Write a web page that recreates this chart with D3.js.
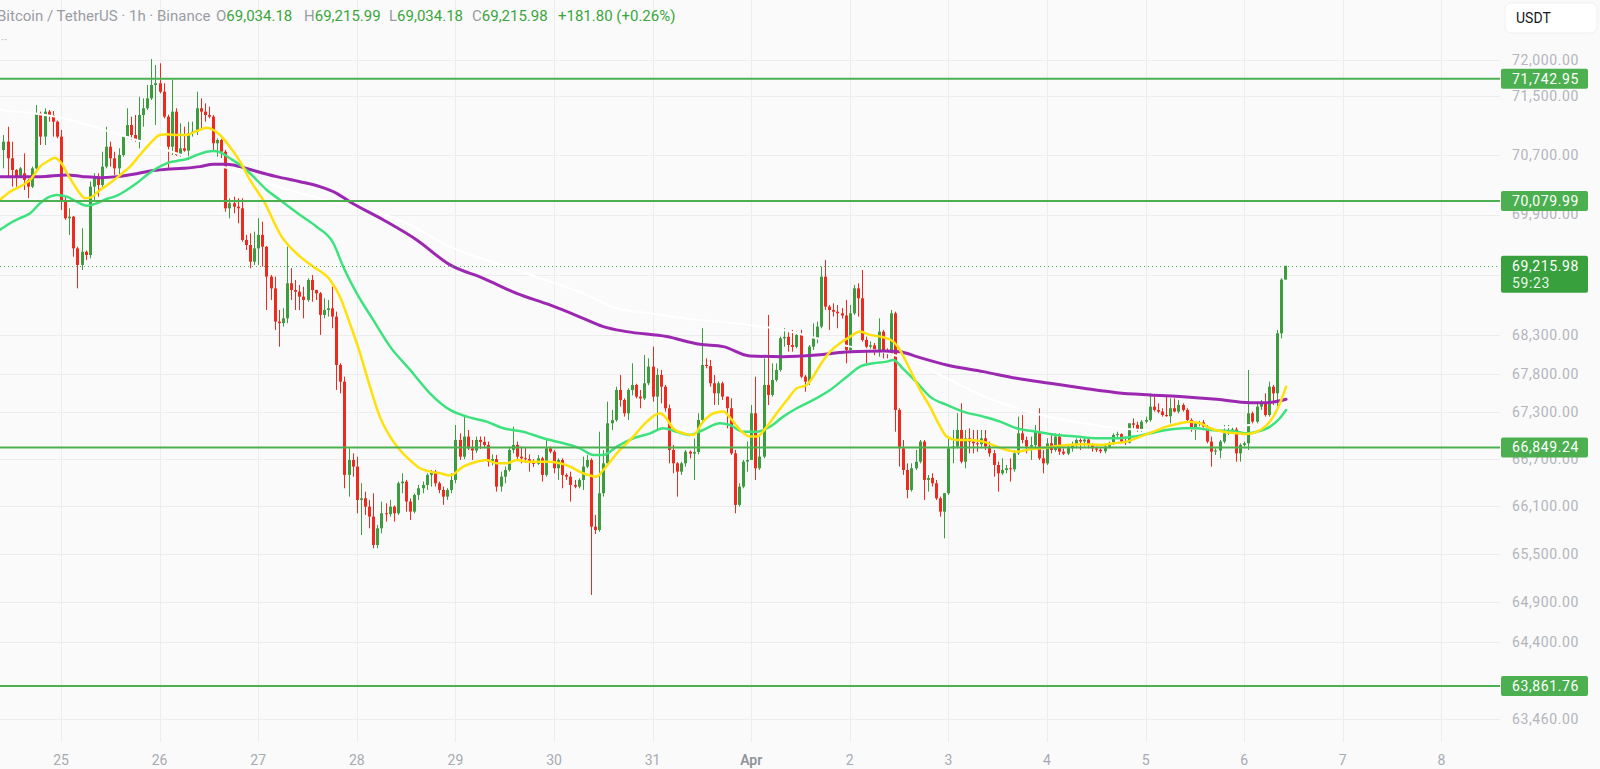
<!DOCTYPE html>
<html>
<head>
<meta charset="utf-8">
<script src="https://cdn.jsdelivr.net/npm/d3@7"></script>
<style>
html, body { margin: 0; padding: 0; background: #fafafa; overflow: hidden; }
svg { display: block; font-family: Roboto, "Noto Sans", sans-serif; }
</style>
</head>
<body>
<svg id="chart" width="1600" height="769"></svg>
<script>
// 1h bars, first visible bar opens Mar 24 10:00 UTC
const firstBar = Date.UTC(2024, 2, 24, 10)

// [open, high, low, close]
const ohlc = [
  [70769,70973,70521,70882],[70882,71086,70409,70657],[70657,70882,70274,70499],[70499,70510,70274,70409],
  [70409,70540,70390,70521],[70454,70724,70229,70364],[70364,70380,70120,70274],[70274,70544,70255,70521],
  [70521,71382,70499,71268],[71268,71291,70837,70951],[70951,71337,70837,71291],[71291,71314,71154,71245],
  [71245,71300,70951,71154],[71154,71170,70928,70951],[70951,71041,69960,70072],[70072,70139,69830,69849],
  [69849,69983,69627,69871],[69871,69880,69338,69448],[69448,69470,68918,69228],[69228,69716,69161,69403],
  [69403,69420,69294,69360],[69360,70341,69316,70274],[70274,70454,70072,70387],[70387,70454,70139,70297],
  [70297,70746,70252,70544],[70544,71086,70521,70814],[70814,70882,70544,70657],[70657,70746,70432,70521],
  [70521,70792,70432,70701],[70701,70973,70678,70951],[70951,71337,70928,71109],[71109,71223,70905,70973],
  [70973,71245,70882,70905],[70905,71495,70792,71245],[71245,71473,71086,71337],[71337,71656,71314,71473],
  [71473,72014,71450,71656],[71656,71931,71109,71680],[71680,71955,71541,71564],[71564,71680,71200,71223],
  [71223,71250,70521,70814],[70814,71725,70701,71291],[71291,71337,70690,70701],[70701,71132,70678,70792],
  [70792,71086,70746,70760],[70760,71154,70634,70997],[70997,71154,70951,71018],[71018,71564,70973,71337],
  [71337,71473,71064,71291],[71291,71405,71154,71245],[71245,71359,71200,71223],[71223,71245,70769,70860],
  [70860,70928,70678,70905],[70905,70920,70660,70746],[70746,70769,69937,69983],[69983,70118,69849,70050],
  [70050,70139,69916,70005],[70005,70118,69782,69983],[69983,70118,69537,69560],[69560,69627,69426,69493],
  [69493,69649,69184,69271],[69271,69671,69228,69448],[69448,69849,69228,69627],[69627,69804,69206,69470],
  [69470,69480,68633,69073],[69073,69095,68765,68918],[68918,69073,68371,68480],[68480,68633,68152,68460],
  [68460,68655,68415,68524],[68524,69470,68458,68985],[68985,69184,68765,68896],[68896,69029,68633,68874],
  [68874,68963,68633,68808],[68808,68940,68524,68765],[68765,69051,68742,69029],[69029,69095,68742,68896],
  [68896,68900,68765,68852],[68852,68870,68306,68568],[68568,68787,68524,68633],[68633,68765,68546,68655],
  [68655,68940,68393,68546],[68546,68612,67589,67914],[67914,67935,67546,67697],[67697,67762,66328,66498],
  [66498,66838,66222,66689],[66689,66774,66476,66604],[66604,66731,66011,66180],[66180,66392,65737,66201],
  [66201,66286,65990,66095],[66095,66180,65821,65969],[65969,66265,65569,65611],[65611,65864,65569,65821],
  [65821,66159,65758,66011],[66011,66138,65906,66000],[66000,66180,65969,66095],[66095,66110,65906,66011],
  [66011,66413,65990,66392],[66392,66519,66265,66413],[66413,66434,66032,66159],[66159,66200,65927,66032],
  [66032,66260,66010,66244],[66244,66370,66180,66328],[66328,66413,66265,66370],[66370,66519,66307,66498],
  [66498,66561,66349,66540],[66540,66561,66349,66392],[66392,66413,66265,66307],[66307,66349,66117,66222],
  [66222,66330,66180,66307],[66307,66519,66265,66434],[66434,67137,66392,66945],[66945,67030,66689,66731],
  [66731,67266,66700,66988],[66988,67073,66817,66838],[66838,66945,66689,66810],[66810,66988,66780,66945],
  [66945,66990,66830,66920],[66920,66988,66838,66881],[66881,66924,66604,66667],[66667,66760,66620,66700],
  [66700,66753,66286,66349],[66349,66540,66286,66476],[66476,66604,66392,66561],[66561,66860,66540,66817],
  [66817,67116,66774,66881],[66881,66924,66689,66731],[66731,66860,66646,66710],[66710,66850,66650,66700],
  [66700,66760,66540,66667],[66667,66700,66600,66640],[66640,66753,66625,66710],[66710,66731,66413,66498],
  [66498,66966,66476,66838],[66838,66860,66774,66795],[66795,66817,66519,66583],[66583,66710,66434,66689],
  [66689,66710,66328,66498],[66498,66519,66434,66476],[66476,66540,66159,66370],[66370,66434,66328,66349],
  [66349,66455,66328,66434],[66434,66731,66307,66604],[66604,66753,66583,66689],[66689,66710,64986,65842],
  [65842,65990,65750,65800],[65800,67051,65779,66265],[66265,66817,66222,66646],[66646,67438,66625,67159],
  [67159,67331,67073,67200],[67200,67632,67180,67589],[67589,67784,67374,67460],[67460,67481,67245,67288],
  [67288,67610,67202,67589],[67589,67935,67520,67654],[67654,67670,67481,67503],[67503,67589,67353,67480],
  [67480,68044,67460,67676],[67676,68000,67650,67892],[67892,68152,67438,67503],[67503,67870,67073,67784],
  [67784,67849,67417,67632],[67632,67654,67310,67353],[67353,67400,66646,66817],[66817,66881,66519,66646],
  [66646,66660,66222,66540],[66540,66667,66498,66646],[66646,66817,66604,66795],[66795,66810,66710,66770],
  [66770,66966,66434,66790],[66790,67288,66760,67202],[67202,68393,67159,67914],[67914,68000,67870,67900],
  [67900,67979,67632,67676],[67676,67784,67395,67546],[67546,67700,67395,67676],[67676,67697,67460,67503],
  [67503,67503,67094,67353],[67353,67481,66753,66774],[66774,66817,66011,66117],[66117,66392,66095,66349],
  [66349,66689,66328,66667],[66667,66924,66540,66689],[66689,67395,66689,67288],[67288,67762,66434,66583],
  [66583,66988,66561,66731],[66731,68000,66710,67654],[67654,68568,67395,67525],[67525,67935,67503,67719],
  [67719,67935,67697,67849],[67849,68284,67827,68262],[68262,68393,68152,68280],[68280,68349,68087,68174],
  [68174,68371,68087,68150],[68150,68349,68131,68306],[68306,68371,67741,67762],[67762,67784,67567,67697],
  [67697,68174,67654,68152],[68152,68458,68109,68262],[68262,68480,68196,68415],[68415,69206,68393,69073],
  [69073,69294,68633,68677],[68677,68699,68371,68633],[68633,68721,68546,68610],[68610,68699,68393,68589],
  [68589,68660,68520,68560],[68560,68765,67935,68109],[68109,68699,68066,68589],[68589,68963,68568,68918],
  [68918,68985,68546,68787],[68787,69161,68218,68240],[68240,68284,67935,68152],[68152,68220,68100,68170],
  [68170,68200,68040,68087],[68087,68524,68022,68349],[68349,68371,68000,68087],[68087,68130,68000,68060],
  [68060,68633,68040,68589],[68589,68611,67051,67331],[67331,67353,66604,66838],[66838,66945,66498,66561],
  [66561,66646,66201,66307],[66307,66646,66286,66583],[66583,66817,66561,66667],[66667,66945,66646,66924],
  [66924,66945,66180,66434],[66434,66498,66286,66460],[66460,66519,66349,66392],[66392,66434,66180,66201],
  [66201,66222,65969,66032],[66032,66265,65695,66265],[66265,66988,66244,66838],[66838,67073,66646,66860],
  [66860,67288,66838,67073],[67073,67417,66646,66667],[66667,67073,66583,66966],[66966,67094,66774,66924],
  [66924,67073,66774,66902],[66902,67073,66795,66890],[66890,67073,66838,66966],[66966,67073,66817,66860],
  [66860,66924,66731,66774],[66774,66817,66476,66625],[66625,66667,66286,66519],[66519,66710,66498,66561],
  [66561,66625,66519,66583],[66583,66710,66413,66570],[66570,66817,66540,66774],[66774,67245,66753,67030],
  [67030,67266,66902,66945],[66945,66988,66774,66860],[66860,66988,66689,66880],[66880,67137,66838,67051],
  [67051,67353,66689,66710],[66710,66817,66519,66646],[66646,66966,66625,66902],[66902,67030,66774,66817],
  [66817,67030,66795,66988],[66988,67030,66753,66795],[66795,66838,66753,66770],[66770,66870,66750,66840],
  [66840,66924,66795,66881],[66881,66966,66838,66945],[66945,66965,66817,66925],[66925,66970,66860,66950],
  [66950,66970,66838,66881],[66881,66902,66795,66838],[66838,66860,66790,66820],[66820,66840,66774,66800],
  [66800,66880,66774,66860],[66860,66924,66838,66902],[66902,67030,66881,67009],[67009,67051,66966,67020],
  [67020,67030,66902,66924],[66924,66988,66881,66910],[66910,67159,66902,67159],[67159,67223,67094,67140],
  [67140,67180,67051,67073],[67073,67202,67051,67180],[67180,67245,67159,67202],[67202,67546,67180,67374],
  [67374,67503,67310,67331],[67331,67417,67288,67310],[67310,67353,67245,67266],[67266,67525,67245,67250],
  [67250,67481,67159,67353],[67353,67481,67300,67310],[67310,67460,67288,67395],[67395,67417,67310,67331],
  [67331,67353,67180,67202],[67202,67223,67051,67073],[67073,67180,66945,67159],[67159,67190,67120,67170],
  [67170,67202,67094,67116],[67116,67137,66902,66924],[66924,66988,66604,66795],[66795,66838,66753,66810],
  [66810,66945,66710,66924],[66924,67137,66902,67030],[67030,67137,67009,67073],[67073,67110,67030,67080],
  [67080,67116,66667,66774],[66774,66902,66667,66881],[66881,66924,66860,66902],[66902,67849,66817,67288],
  [67288,67310,67159,67180],[67180,67417,67159,67374],[67374,67460,67331,67417],[67417,67546,67245,67266],
  [67266,67697,67245,67632],[67632,67654,67395,67546],[67546,68371,67331,68327],[68327,69051,68262,69034.18],
  [69034.18,69215.99,69034.18,69215.98]
]

// moving averages: [bar index, price]
const maFast = [[-0.9,70095],[1.6,70206],[4,70274],[6.5,70364],[8.9,70544],[11.3,70634],[12.5,70665],[13.8,70611],
  [16.2,70387],[18.6,70184],[19.8,70118],[21.1,70126],[23.5,70229],[25.9,70319],[28.4,70432],[30.8,70544],
  [33.2,70701],[35.7,70860],[38.1,70973],[39.7,70982],[42.2,70973],[44.6,70973],[47,71027],[49.5,71072],
  [51.1,71041],[52.7,70973],[55.1,70814],[57.6,70611],[60,70364],[63.2,70095],[67.7,69604],[72.2,69338],
  [75.4,69205],[79.5,69029],[81.9,68808],[84.3,68458],[86.8,68066],[89.2,67632],[91.6,67245],[94.1,66988],
  [96.5,66817],[98.9,66689],[101.4,66583],[103.8,66540],[106.3,66519],[108.7,66490],[111.9,66604],[115.2,66667],
  [117.6,66689],[120.1,66646],[122.5,66646],[124.9,66689],[127.4,66667],[130.6,66667],[133,66667],[135.5,66646],
  [137.9,66604],[141.1,66519],[144.4,66476],[146,66561],[149.3,66774],[153.3,66988],[156.6,67180],[159.8,67288],
  [161,67245],[163,67095],[165.5,67030],[167.9,67009],[170.3,67180],[172.8,67288],[175.2,67310],[177.3,67202],
  [179.3,67073],[181.7,66988],[183.4,66988],[185.8,67116],[188.2,67288],[190.7,67460],[193.1,67611],[195.5,67654],
  [197.1,67762],[198.8,67914],[201.2,68087],[203.6,68197],[206.1,68284],[208.5,68349],[210.9,68306],[214.2,68275],
  [216.6,68218],[218.2,68109],[220.7,67849],[223.1,67589],[225.5,67374],[228,67116],[229.6,66988],[232,66945],
  [235.3,66945],[238.5,66924],[241.8,66860],[244.2,66817],[246.6,66795],[249.1,66817],[252.3,66838],[255.6,66860],
  [258.8,66881],[262.9,66890],[266.9,66881],[270.2,66902],[273.4,66924],[276.7,66988],[279.9,67051],[283.1,67116],
  [286.4,67159],[288.8,67180],[291.3,67159],[293.7,67095],[296.9,67051],[300.2,67030],[302.6,67020],[305.1,67051],
  [307.5,67137],[309.1,67245],[310.7,67417],[312.2,67632]]

const maMid = [[-0.9,69693],[1.6,69783],[4,69850],[6.5,69916],[8.9,70050],[11.3,70139],[12.9,70162],[15.4,70139],
  [17.8,70072],[20.3,70018],[22.7,70050],[25.1,70108],[27.6,70153],[30,70229],[32.4,70319],[34.9,70432],
  [37.3,70522],[39.7,70589],[42.2,70620],[44.6,70647],[47,70701],[49.5,70746],[51.1,70755],[52.7,70738],
  [55.1,70657],[57.6,70566],[60,70454],[64.1,70229],[67.3,70095],[72.2,69893],[76.2,69737],[80.3,69516],
  [82.7,69205],[86,68852],[90,68502],[94.1,68153],[99,67849],[103.8,67546],[108.7,67331],[112.8,67245],
  [117.6,67180],[121.7,67095],[126.5,67051],[131.4,66966],[136.3,66902],[140.3,66838],[143.6,66753],[146,66753],
  [149.3,66860],[153.3,66966],[157.4,67030],[160.6,67095],[163.9,67051],[167.1,67009],[170.3,67073],[174.4,67159],
  [176.8,67137],[180.1,67051],[183.4,67051],[186.6,67116],[189.8,67245],[193.1,67353],[197.1,67460],[201.2,67589],
  [205.3,67762],[208.5,67892],[211.7,67935],[215,67957],[216.6,67979],[219,67862],[222.3,67687],[225.5,67503],
  [229.6,67396],[233.6,67310],[238.5,67245],[242.6,67180],[246.6,67095],[251.5,67051],[256.4,67009],[261.2,66988],
  [266.1,66966],[271,66966],[275,66988],[279.1,67030],[283.1,67073],[287.2,67095],[290.4,67095],[293.7,67073],
  [296.9,67062],[300.2,67051],[302.6,67030],[305.1,67051],[308.3,67116],[310.3,67202],[312.2,67331]]

const maSlow = [[-0.9,70409],[8.9,70409],[15.4,70432],[19.4,70409],[23.5,70395],[27.6,70409],[31.6,70441],
  [35.7,70486],[39.7,70508],[43.8,70522],[47.8,70544],[51.1,70576],[54.3,70576],[57.6,70544],[60,70506],
  [66.5,70409],[72.2,70341],[77,70274],[81.1,70184],[84.3,70072],[92.5,69827],[100.6,69560],[108.7,69228],
  [116.8,69051],[124.9,68852],[133,68699],[141.1,68524],[146,68415],[151.7,68349],[161.4,68284],[169.5,68183],
  [175.2,68153],[181.7,68031],[189.8,68022],[198,68044],[206.1,68087],[214.2,68096],[218.2,68087],[222.3,68022],
  [229.6,67914],[238.5,67827],[246.6,67741],[254.7,67676],[262.9,67611],[271,67554],[279.1,67525],[287.2,67503],
  [295.3,67469],[303.4,67425],[307.5,67425],[312.2,67469]]

const maLong = [[-0.9,71314],[7.3,71268],[15.4,71191],[25.9,71018],[34.9,70860],[44.6,70678],[55.9,70499],
  [64.1,70319],[72.2,70185],[80.3,70072],[88.4,69960],[96.5,69827],[108.7,69470],[124.9,69161],[133,69007],
  [141.1,68852],[149.3,68655],[157.4,68590],[165.5,68524],[181.7,68437],[189.8,68371],[198,68262],[206.1,68153],
  [214.2,68083],[222.3,67940],[230.4,67719],[238.5,67512],[246.6,67357],[254.7,67240],[262.9,67159],[271,67099],
  [279.1,67073],[287.2,67086],[295.3,67099],[303.4,67137]]

const levels = [71742.95, 70079.99, 66849.24, 63861.76]
const lastPrice = 69215.98
const countdown = "59:23"
const priceTicks = [72000, 71500, 70700, 69900, 69100, 68300, 67800, 67300, 66700, 66100, 65500, 64900, 64400, 63460]
const dayTicks = d3.range(0, 15).map(k => new Date(Date.UTC(2024, 2, 25 + k)))

const up = "#3d9c40", down = "#ee2a1e"
const paneRight = 1500, paneBottom = 742

const svg = d3.select("#chart")
const fmt = d3.format(",.2f")

const x = d3.scaleUtc()
    .domain([new Date(Date.UTC(2024, 2, 25)), new Date(Date.UTC(2024, 3, 8))])
    .range([61, 1441.4])
const y = d3.scaleLog()
    .domain([63460, 72000])
    .range([719, 60])
const barX = i => x(new Date(firstBar + i * 36e5))

svg.append("rect").attr("width", 1600).attr("height", 769).attr("fill", "#fafafa")

svg.append("defs").append("clipPath").attr("id", "pane")
    .append("rect").attr("width", paneRight).attr("height", paneBottom)

// grid
svg.append("g")
    .attr("stroke", "#ededed")
    .selectAll("line")
    .data(dayTicks)
    .join("line")
    .attr("x1", d => Math.round(x(d)) + 0.5)
    .attr("x2", d => Math.round(x(d)) + 0.5)
    .attr("y1", 0)
    .attr("y2", paneBottom)

svg.append("g")
    .attr("stroke", "#ededed")
    .selectAll("line")
    .data(priceTicks)
    .join("line")
    .attr("x1", 0)
    .attr("x2", paneRight)
    .attr("y1", d => Math.round(y(d)) + 0.5)
    .attr("y2", d => Math.round(y(d)) + 0.5)

const pane = svg.append("g").attr("clip-path", "url(#pane)")

// candles
const bars = pane.append("g")
    .selectAll("g")
    .data(ohlc)
    .join("g")
    .attr("fill", d => d[3] >= d[0] ? up : down)

bars.append("rect")
    .attr("x", (d, i) => Math.round(barX(i)))
    .attr("width", 1)
    .attr("y", d => y(d[1]))
    .attr("height", d => Math.max(1, y(d[2]) - y(d[1])))

bars.append("rect")
    .attr("x", (d, i) => Math.round(barX(i)) - 1)
    .attr("width", 3)
    .attr("y", d => y(Math.max(d[0], d[3])))
    .attr("height", d => Math.max(1, Math.abs(y(d[0]) - y(d[3]))))

// moving averages
const line = d3.line()
    .x(d => barX(d[0]))
    .y(d => y(d[1]))
    .curve(d3.curveMonotoneX)

const mas = [
  [maLong, "#ffffff", 2],
  [maSlow, "#9c27b0", 3],
  [maMid, "#3de27e", 2.5],
  [maFast, "#ffe00a", 2.5]
]
pane.append("g")
    .attr("fill", "none")
    .attr("stroke-linejoin", "round")
    .attr("stroke-linecap", "round")
    .selectAll("path")
    .data(mas)
    .join("path")
    .attr("d", d => line(d[0]))
    .attr("stroke", d => d[1])
    .attr("stroke-width", d => d[2])

// horizontal levels
svg.append("g")
    .attr("stroke", "#4caf50")
    .attr("stroke-width", 2)
    .selectAll("line")
    .data(levels)
    .join("line")
    .attr("x1", 0)
    .attr("x2", paneRight)
    .attr("y1", d => y(d))
    .attr("y2", d => y(d))

svg.append("line")
    .attr("x1", 0)
    .attr("x2", paneRight)
    .attr("y1", Math.round(y(lastPrice)) + 0.5)
    .attr("y2", Math.round(y(lastPrice)) + 0.5)
    .attr("stroke", "#4caf50")
    .attr("stroke-dasharray", "1,3")

// price axis (the tick hidden under the last-price tag is not labelled)
const axisFont = 14
const curTop = y(lastPrice) - 10, curBottom = y(lastPrice) + 27
svg.append("g")
    .attr("fill", "#b2b5bc")
    .attr("font-size", axisFont)
    .attr("letter-spacing", 0.6)
    .selectAll("text")
    .data(priceTicks.filter(d => y(d) < curTop || y(d) > curBottom))
    .join("text")
    .attr("x", 1512)
    .attr("y", d => y(d))
    .attr("dy", "0.35em")
    .text(d => fmt(d))

const lv = svg.append("g")
    .selectAll("g")
    .data(levels)
    .join("g")
    .attr("transform", d => `translate(1501,${y(d)})`)
lv.append("rect")
    .attr("y", -10)
    .attr("width", 87)
    .attr("height", 20)
    .attr("rx", 2)
    .attr("fill", "#4caf50")
lv.append("text")
    .attr("x", 11)
    .attr("dy", "0.35em")
    .attr("fill", "#fff")
    .attr("font-size", axisFont)
    .attr("letter-spacing", 0.6)
    .text(d => fmt(d))

const cur = svg.append("g").attr("transform", `translate(1501,${y(lastPrice)})`)
cur.append("rect")
    .attr("y", -10)
    .attr("width", 87)
    .attr("height", 37)
    .attr("rx", 2)
    .attr("fill", "#38a13d")
cur.append("text")
    .attr("x", 11)
    .attr("dy", "0.35em")
    .attr("fill", "#fff")
    .attr("font-size", axisFont)
    .attr("letter-spacing", 0.6)
    .text(fmt(lastPrice))
cur.append("text")
    .attr("x", 11)
    .attr("y", 17)
    .attr("dy", "0.35em")
    .attr("fill", "#e8f5e9")
    .attr("font-size", axisFont)
    .attr("letter-spacing", 0.6)
    .text(countdown)

// time axis
svg.append("g")
    .attr("font-size", 14)
    .attr("text-anchor", "middle")
    .selectAll("text")
    .data(dayTicks)
    .join("text")
    .attr("x", d => x(d))
    .attr("y", 760)
    .attr("dy", "0.35em")
    .attr("fill", d => d.getUTCDate() === 1 ? "#90939b" : "#a7aab2")
    .attr("font-weight", d => d.getUTCDate() === 1 ? 600 : 400)
    .text(d => d.getUTCDate() === 1 ? "Apr" : d.getUTCDate())

// currency button
const usdt = svg.append("g").attr("transform", "translate(1505,3)")
usdt.append("rect")
    .attr("width", 92)
    .attr("height", 30)
    .attr("rx", 6)
    .attr("fill", "#fff")
    .attr("stroke", "#f0f0f0")
usdt.append("text")
    .attr("x", 11)
    .attr("y", 15)
    .attr("dy", "0.35em")
    .attr("font-size", 14)
    .attr("fill", "#131722")
    .text("USDT")

// legend
const last = ohlc[ohlc.length - 1]
const prevClose = ohlc[ohlc.length - 2][3]
const chg = last[3] - prevClose
const legend = svg.append("text")
    .attr("y", 16)
    .attr("dy", "0.35em")
    .attr("font-size", 15)
legend.append("tspan").attr("x", -3).attr("fill", "#9a9da5").text("Bitcoin / TetherUS · 1h · Binance")
const parts = [["O", last[0], 216], ["H", last[1], 304], ["L", last[2], 389], ["C", last[3], 472]]
parts.forEach(([k, v, px]) => {
  legend.append("tspan").attr("x", px).attr("fill", "#9a9da5").text(k)
  legend.append("tspan").attr("fill", "#3aa53d").text(fmt(v))
})
legend.append("tspan").attr("x", 558).attr("fill", "#3aa53d")
    .text(`${chg >= 0 ? "+" : ""}${fmt(chg)} (${chg >= 0 ? "+" : ""}${(chg / prevClose * 100).toFixed(2)}%)`)

svg.append("text")
    .attr("x", 1)
    .attr("y", 40)
    .attr("dy", "0.35em")
    .attr("font-size", 12)
    .attr("fill", "#b8b8b8")
    .text("··")
</script>
</body>
</html>
